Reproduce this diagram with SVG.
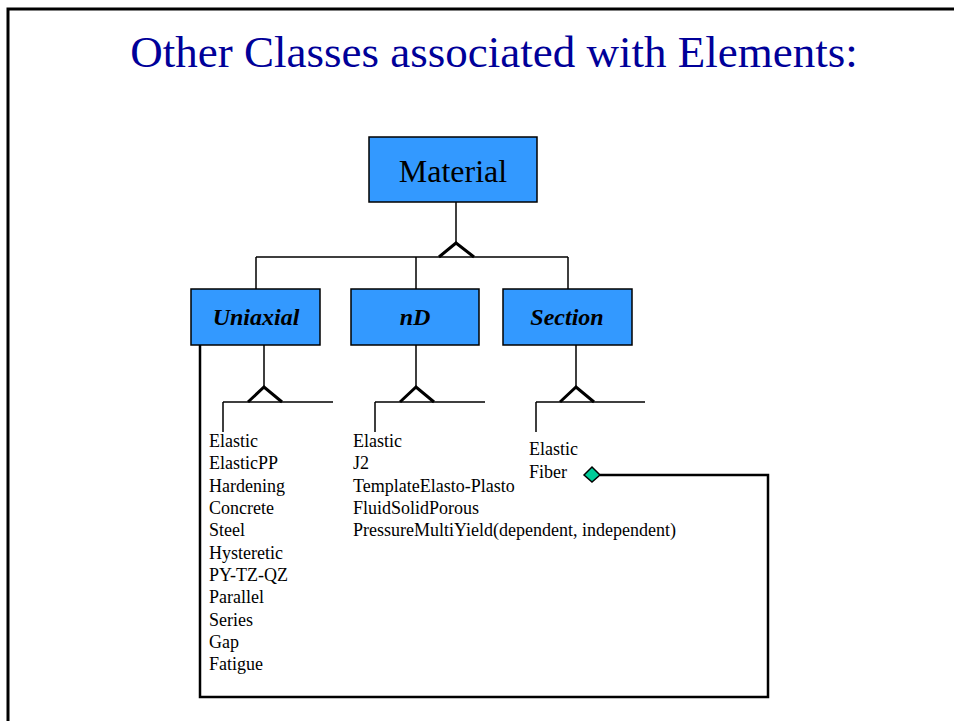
<svg xmlns="http://www.w3.org/2000/svg" width="954" height="721" viewBox="0 0 954 721">
<style>
.box{fill:#3399FF;stroke:#000;stroke-width:1.5}
.ln{fill:none;stroke:#000;stroke-width:1.5}
.tri{fill:none;stroke:#000;stroke-width:3}
.lst{font-family:"Liberation Serif",serif;font-size:18px;fill:#000}
.hd{font-family:"Liberation Serif",serif;font-size:24px;font-weight:bold;font-style:italic;text-anchor:middle;fill:#000}
</style>
<rect width="954" height="721" fill="#fff"/>
<path d="M8 721 V9 H954" fill="none" stroke="#000" stroke-width="3"/>
<text x="494" y="67" font-family="Liberation Serif,serif" font-size="45" fill="#000099" text-anchor="middle">Other Classes associated with Elements:</text>
<g id="connectors">
<path class="ln" d="M456 202 V243"/>
<path class="tri" d="M439 257 L456 243 L474 257"/>
<path class="ln" d="M256 257 H568 M256 257 V289 M416 257 V289 M568 257 V289"/>
<path class="ln" d="M264 345 V387 M416 345 V387 M576 345 V387"/>
<path class="tri" d="M248 402 L264 387 L282 402 M400 402 L416 387 L434 402 M560 402 L576 387 L594 402"/>
<path class="ln" d="M223 402 H333 M223 402 V432 M375 402 H485 M375 402 V432 M536 402 H645 M536 402 V432"/>
<path fill="none" stroke="#000" stroke-width="2.5" d="M200 345 V697 H768 V475 H600"/>
<polygon points="584,475 592,467 600,475 592,482" fill="#00CC99" stroke="#000" stroke-width="1.5"/>
</g>
<g id="material">
<rect class="box" x="369" y="137" width="168" height="65"/>
<text x="453" y="182" font-family="Liberation Serif,serif" font-size="32" text-anchor="middle">Material</text>
</g>
<g id="uniaxial">
<rect class="box" x="191" y="289" width="129" height="56"/>
<text class="hd" x="256" y="325">Uniaxial</text>
</g>
<g id="nd">
<rect class="box" x="351" y="289" width="128" height="56"/>
<text class="hd" x="415" y="325">nD</text>
</g>
<g id="section">
<rect class="box" x="503" y="289" width="129" height="56"/>
<text class="hd" x="567" y="325">Section</text>
</g>
<g id="uniaxial-list" class="lst">
<text x="209" y="447">Elastic</text>
<text x="209" y="469">ElasticPP</text>
<text x="209" y="492">Hardening</text>
<text x="209" y="514">Concrete</text>
<text x="209" y="536">Steel</text>
<text x="209" y="559">Hysteretic</text>
<text x="209" y="581">PY-TZ-QZ</text>
<text x="209" y="603">Parallel</text>
<text x="209" y="626">Series</text>
<text x="209" y="648">Gap</text>
<text x="209" y="670">Fatigue</text>
</g>
<g id="nd-list" class="lst">
<text x="353" y="447">Elastic</text>
<text x="353" y="469">J2</text>
<text x="353" y="492">TemplateElasto-Plasto</text>
<text x="353" y="514">FluidSolidPorous</text>
<text x="353" y="536">PressureMultiYield(dependent, independent)</text>
</g>
<g id="section-list" class="lst">
<text x="529" y="455">Elastic</text>
<text x="529" y="478">Fiber</text>
</g>
</svg>
